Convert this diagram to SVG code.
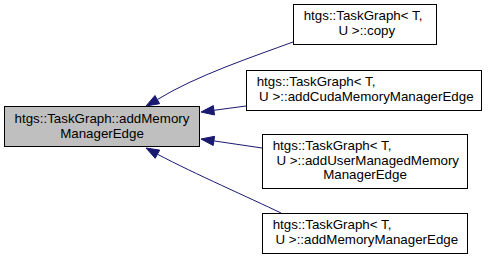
<svg xmlns="http://www.w3.org/2000/svg" width="488" height="260" viewBox="0 0 488 260">
  <style>
    .box { fill: #ffffff; stroke: #000000; stroke-width: 1; }
    .focus { fill: #bfbfbf; stroke: #000000; stroke-width: 1; }
    text { font-family: "Liberation Sans", Arial, Helvetica, sans-serif; font-size: 13.33px; fill: #000000; white-space: pre; }
    .mid { text-anchor: middle; }
    .edge { fill: none; stroke: #191970; stroke-width: 1; }
    .head { fill: #191970; stroke: #191970; stroke-width: 1; }
  </style>
  <rect width="488" height="260" fill="#ffffff"/>

  <!-- call edges (caller -> addMemoryManagerEdge), arrowheads at the callee -->
  <g id="edges">
    <path class="edge" d="M293,42 C255,56 195,76 157.3,99.6"/>
    <polygon class="head" points="146,106 159.6,103.7 155,95.5"/>

    <path class="edge" d="M246,106 L213.9,110.3"/>
    <polygon class="head" points="201,112 214.5,115 213.3,105.6"/>

    <path class="edge" d="M262,148 L213.9,140.9"/>
    <polygon class="head" points="201,139 213.2,145.5 214.6,136.3"/>

    <path class="edge" d="M281,213 C250,198 195,174 157.4,154.2"/>
    <polygon class="head" points="146,148 155.2,158.3 159.7,150.1"/>
  </g>

  <g id="node-addMemoryManagerEdge">
    <rect class="focus" x="4.5" y="106.5" width="195" height="40"/>
    <text class="mid" x="102" y="123">htgs::TaskGraph::addMemory</text>
    <text class="mid" x="102" y="137.7">ManagerEdge</text>
  </g>

  <g id="node-copy">
    <rect class="box" x="293.5" y="4.5" width="143" height="40"/>
    <text x="303.7" y="20">htgs::TaskGraph&lt; T,</text>
    <text class="mid" x="365" y="34.7"> U &gt;::copy</text>
  </g>

  <g id="node-addCudaMemoryManagerEdge">
    <rect class="box" x="246.5" y="70.5" width="235" height="40"/>
    <text x="256.7" y="86">htgs::TaskGraph&lt; T,</text>
    <text class="mid" x="364.5" y="100.7"> U &gt;::addCudaMemoryManagerEdge</text>
  </g>

  <g id="node-addUserManagedMemoryManagerEdge">
    <rect class="box" x="262.5" y="134.5" width="205" height="54"/>
    <text x="272.7" y="150">htgs::TaskGraph&lt; T,</text>
    <text x="272.7" y="164.7"> U &gt;::addUserManagedMemory</text>
    <text class="mid" x="365" y="179.3">ManagerEdge</text>
  </g>

  <g id="node-addMemoryManagerEdge-tmpl">
    <rect class="box" x="262.5" y="213.5" width="205" height="40"/>
    <text x="272.7" y="229">htgs::TaskGraph&lt; T,</text>
    <text class="mid" x="365" y="243.7"> U &gt;::addMemoryManagerEdge</text>
  </g>
</svg>
